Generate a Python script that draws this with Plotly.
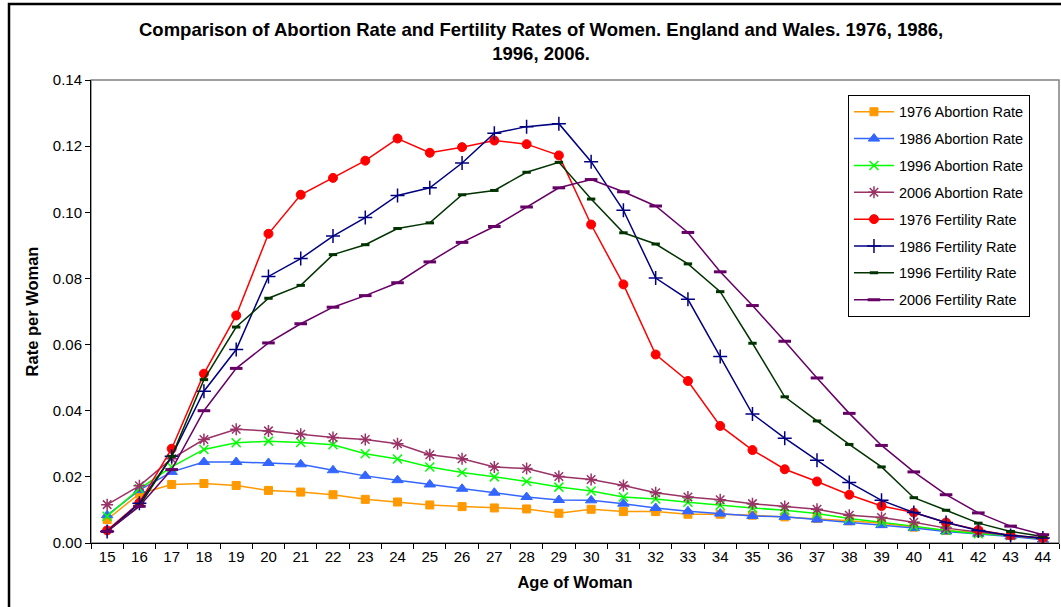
import plotly.graph_objects as go

ages = [str(a) for a in range(15, 45)]

abortion_1976 = [0.0071, 0.0149, 0.0177, 0.0180, 0.0174, 0.0159, 0.0154, 0.0146, 0.0132, 0.0124,
                 0.0115, 0.0110, 0.0106, 0.0103, 0.0090, 0.0102, 0.0095, 0.0095, 0.0087, 0.0087,
                 0.0084, 0.0079, 0.0074, 0.0067, 0.0060, 0.0048, 0.0038, 0.0031, 0.0023, 0.0012]
abortion_1986 = [0.0084, 0.0160, 0.0215, 0.0245, 0.0245, 0.0242, 0.0238, 0.0220, 0.0203, 0.0190,
                 0.0177, 0.0164, 0.0152, 0.0139, 0.0130, 0.0129, 0.0119, 0.0106, 0.0096, 0.0089,
                 0.0082, 0.0079, 0.0071, 0.0063, 0.0054, 0.0045, 0.0035, 0.0028, 0.0020, 0.0010]
abortion_1996 = [0.0081, 0.0164, 0.0230, 0.0283, 0.0303, 0.0308, 0.0304, 0.0297, 0.0270, 0.0254,
                 0.0230, 0.0213, 0.0200, 0.0186, 0.0169, 0.0157, 0.0139, 0.0133, 0.0123, 0.0114,
                 0.0106, 0.0099, 0.0089, 0.0074, 0.0063, 0.0051, 0.0038, 0.0028, 0.0023, 0.0012]
abortion_2006 = [0.0116, 0.0173, 0.0255, 0.0313, 0.0344, 0.0339, 0.0329, 0.0319, 0.0313, 0.0300,
                 0.0267, 0.0255, 0.0230, 0.0225, 0.0201, 0.0192, 0.0174, 0.0152, 0.0139, 0.0131,
                 0.0119, 0.0110, 0.0102, 0.0084, 0.0077, 0.0063, 0.0045, 0.0033, 0.0023, 0.0013]
fertility_1976 = [0.0038, 0.0122, 0.0285, 0.0512, 0.0688, 0.0935, 0.1053, 0.1104, 0.1156, 0.1223,
                  0.1180, 0.1197, 0.1217, 0.1206, 0.1172, 0.0963, 0.0782, 0.0570, 0.0490, 0.0354,
                  0.0281, 0.0223, 0.0186, 0.0146, 0.0112, 0.0092, 0.0062, 0.0039, 0.0023, 0.0015]
fertility_1986 = [0.0035, 0.0120, 0.0262, 0.0459, 0.0585, 0.0806, 0.0860, 0.0928, 0.0984, 0.1051,
                  0.1074, 0.1149, 0.1239, 0.1259, 0.1268, 0.1153, 0.1006, 0.0801, 0.0737, 0.0564,
                  0.0390, 0.0317, 0.0250, 0.0183, 0.0129, 0.0092, 0.0062, 0.0038, 0.0023, 0.0015]
fertility_1996 = [0.0035, 0.0112, 0.0262, 0.0494, 0.0653, 0.0740, 0.0779, 0.0872, 0.0902, 0.0951,
                  0.0968, 0.1053, 0.1066, 0.1121, 0.1151, 0.1040, 0.0938, 0.0904, 0.0844, 0.0760,
                  0.0604, 0.0442, 0.0369, 0.0298, 0.0230, 0.0137, 0.0099, 0.0060, 0.0035, 0.0020]
fertility_2006 = [0.0035, 0.0111, 0.0222, 0.0400, 0.0528, 0.0605, 0.0663, 0.0713, 0.0748, 0.0787,
                  0.0850, 0.0909, 0.0957, 0.1016, 0.1074, 0.1099, 0.1062, 0.1019, 0.0939, 0.0820,
                  0.0718, 0.0610, 0.0499, 0.0392, 0.0295, 0.0215, 0.0146, 0.0091, 0.0051, 0.0025]

series = [
    ("1976 Abortion Rate", abortion_1976, "#FF9900", "square", 8, 1),
    ("1986 Abortion Rate", abortion_1986, "#3366FF", "triangle-up", 10, 1),
    ("1996 Abortion Rate", abortion_1996, "#00FF00", "x-thin-open", 9, 1.5),
    ("2006 Abortion Rate", abortion_2006, "#993366", "asterisk-open", 10, 1.5),
    ("1976 Fertility Rate", fertility_1976, "#FF0000", "circle", 9, 1),
    ("1986 Fertility Rate", fertility_1986, "#000080", "cross-thin-open", 10, 1.5),
    ("1996 Fertility Rate", fertility_1996, "#003300", "line-ew-open", 6, 3),
    ("2006 Fertility Rate", fertility_2006, "#660066", "line-ew-open", 9, 3),
]

FONT = "Arial, Liberation Sans, sans-serif"

fig = go.Figure()
for i, (name, vals, color, sym, size, mlw) in enumerate(series):
    fig.add_trace(go.Scatter(
        x=ages, y=vals, name=name, mode="lines+markers",
        line=dict(color=color, width=1.5),
        marker=dict(symbol=sym, size=size, color=color, line=dict(color=color, width=mlw)),
        legendgroup=f"g{i}",
    ))

# plot area grey frame
fig.add_shape(type="rect", xref="paper", yref="paper", x0=0, y0=0, x1=1, y1=1,
              line=dict(color="#808080", width=1.5), layer="below")
# outer chart border
fig.add_shape(type="rect", xref="paper", yref="paper", x0=-0.0847, y0=-0.4, x1=1.2, y1=1.164,
              line=dict(color="black", width=2.5), layer="below")

fig.update_layout(
    width=1061, height=607,
    margin=dict(l=91, r=2, t=80, b=64),
    paper_bgcolor="white", plot_bgcolor="white",
    font=dict(family=FONT, size=15, color="black"),
    title=dict(
        text="<b>Comparison of Abortion Rate and Fertility Rates of Women. England and Wales. 1976, 1986,<br>1996, 2006.</b>",
        x=0.51, xanchor="center", xref="container",
        y=1 - 36 / 607, yanchor="top", yref="container",
        font=dict(family=FONT, size=18.5, color="black"),
    ),
    showlegend=True,
    legend=dict(
        x=0.782, y=0.968, xanchor="left", yanchor="top",
        bgcolor="white", bordercolor="black", borderwidth=1,
        font=dict(family=FONT, size=14.5, color="black"),
        tracegroupgap=5, itemwidth=40,
    ),
    xaxis=dict(
        type="category", range=[-0.5, 29.5], tickson="boundaries", ticks="outside", ticklen=5,
        tickcolor="black", showline=True, linecolor="black", linewidth=1,
        showgrid=False, zeroline=False,
        tickfont=dict(family=FONT, size=15),
        title=dict(text="<b>Age of Woman</b>", font=dict(family=FONT, size=16.5), standoff=12),
    ),
    yaxis=dict(
        range=[0, 0.14], dtick=0.02, tickformat=".2f", ticks="outside", ticklen=5,
        tickcolor="black", showline=True, linecolor="black", linewidth=1,
        showgrid=False, zeroline=False,
        tickfont=dict(family=FONT, size=15),
        title=dict(text="<b>Rate per Woman</b>", font=dict(family=FONT, size=16.5), standoff=10),
    ),
)

fig.write_html("out.html", config={"displayModeBar": False},
               post_script="document.body.style.margin='0';document.body.style.overflow='hidden';")
